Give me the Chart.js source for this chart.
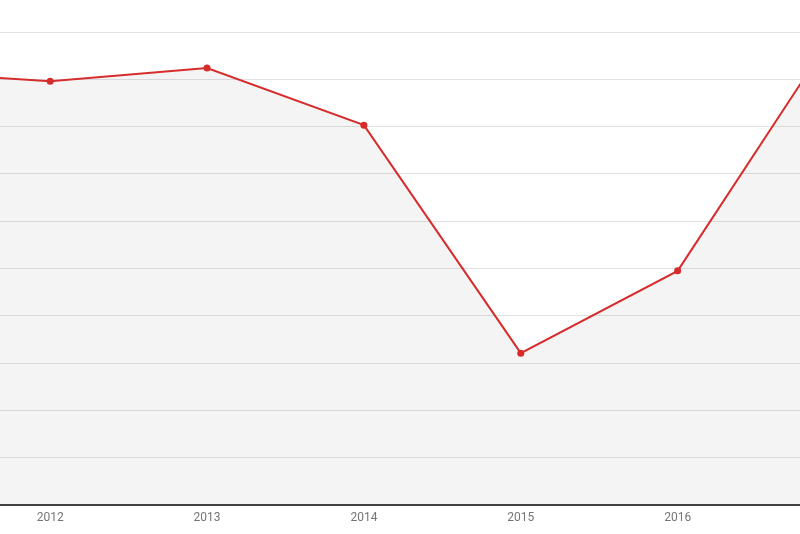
<!DOCTYPE html>
<html>
<head>
<meta charset="utf-8">
<script src="https://cdn.jsdelivr.net/npm/chart.js@4/dist/chart.umd.min.js"></script>
<style>
    html, body { margin: 0; padding: 0; background: #fff; }
    #wrap { width: 800px; height: 534px; position: relative; }
</style>
</head>
<body>
<div id="wrap"><canvas id="lineChart"></canvas></div>
<script>
// years and values (2011 and 2017 sit just outside the visible range)
const years = [2011, 2012, 2013, 2014, 2015, 2016, 2017];
const values = [9.17, 8.96, 9.24, 8.03, 3.21, 4.95, 10.0];
const xTicks = [2012, 2013, 2014, 2015, 2016];

const COLORS = {
    line: '#d62c2c',
    fill: 'rgba(0, 0, 0, 0.045)',
    grid: '#e2e2e2',
    axis: '#444444',
    text: '#757575'
};

const ctx = document.getElementById('lineChart').getContext('2d');

new Chart(ctx, {
    type: 'line',
    data: {
        datasets: [{
            data: years.map((y, i) => ({ x: y, y: values[i] })),
            borderColor: COLORS.line,
            backgroundColor: COLORS.fill,
            borderWidth: 2,
            fill: 'start',
            tension: 0,
            pointRadius: 3.5,
            pointBackgroundColor: COLORS.line,
            pointBorderWidth: 0,
            clip: { left: 0, right: 0, top: false, bottom: 0 }
        }]
    },
    options: {
        responsive: true,
        maintainAspectRatio: false,
        animation: false,
        layout: {
            autoPadding: false,
            padding: { top: 32, left: 0, right: 0, bottom: 0 }
        },
        plugins: {
            legend: { display: false },
            tooltip: { enabled: false }
        },
        scales: {
            x: {
                type: 'linear',
                min: 2011.68,
                max: 2016.78,
                afterBuildTicks: (scale) => {
                    scale.ticks = xTicks.map(v => ({ value: v }));
                },
                afterFit: (scale) => { scale.height = 29; },
                grid: { display: false, drawTicks: false },
                border: { display: true, color: COLORS.axis, width: 2 },
                ticks: {
                    color: COLORS.text,
                    padding: 6,
                    maxRotation: 0,
                    autoSkip: false,
                    font: { family: 'Roboto, sans-serif', size: 12 },
                    callback: (value) => String(value)
                }
            },
            y: {
                min: 0,
                max: 10,
                afterFit: (scale) => { scale.width = 0; },
                grid: { color: COLORS.grid, drawTicks: false },
                border: { display: false },
                ticks: { display: false, stepSize: 1 }
            }
        }
    }
});
</script>
</body>
</html>
